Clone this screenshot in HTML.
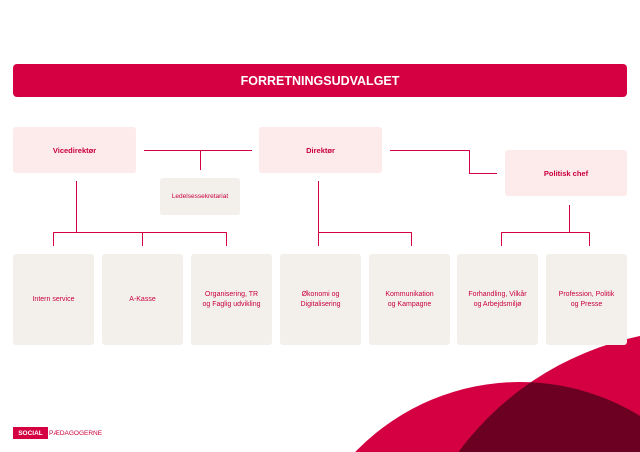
<!DOCTYPE html>
<html style="overflow:hidden"><head><meta charset="utf-8"><style>
html,body{margin:0;width:640px;height:452px;overflow:hidden}
body{background:#fff;position:relative;font-family:"Liberation Sans",sans-serif}
.a{position:absolute}
.hdr{left:13px;top:64px;width:614px;height:33px;background:#d40042;border-radius:4px;color:#fff;font-weight:bold;font-size:12.5px;display:flex;align-items:center;justify-content:center}
.t{background:#fdeaea;border-radius:3px;color:#c8003c;font-size:7.5px;font-weight:bold;display:flex;align-items:center;justify-content:center}
.b{background:#f3f0ec;border-radius:3px;color:#c8003c;font-size:7px;display:flex;align-items:center;justify-content:center;text-align:center;line-height:10px;top:254px;height:91px;width:81px}
.l{background:#d40042}
</style></head><body>
<svg class="a" style="left:0;top:0;display:block" width="640" height="452">
<defs><clipPath id="c1"><circle cx="520" cy="611" r="229"/></clipPath></defs>
<circle cx="700" cy="630" r="300" fill="#d40042"/>
<circle cx="520" cy="611" r="229" fill="#d40042"/>
<circle cx="700" cy="630" r="300" fill="#6c0022" clip-path="url(#c1)"/>
</svg>
<div class="a hdr">FORRETNINGSUDVALGET</div>
<div class="a t" style="left:13px;top:127px;width:123px;height:46px">Vicedirektør</div>
<div class="a t" style="left:259px;top:127px;width:123px;height:46px">Direktør</div>
<div class="a t" style="left:505px;top:150px;width:122px;height:46px">Politisk chef</div>
<div class="a" style="left:160px;top:178px;width:80px;height:37px;background:#f3f0ec;border-radius:3px;color:#c8003c;font-size:6.5px;display:flex;align-items:center;justify-content:center">Ledelsessekretariat</div>
<div class="a l" style="left:144px;top:150px;width:108px;height:1px"></div>
<div class="a l" style="left:200px;top:150px;width:1px;height:20px"></div>
<div class="a l" style="left:390px;top:150px;width:79px;height:1px"></div>
<div class="a l" style="left:469px;top:150px;width:1px;height:23px"></div>
<div class="a l" style="left:469px;top:173px;width:28px;height:1px"></div>
<div class="a l" style="left:76px;top:181px;width:1px;height:51px"></div>
<div class="a l" style="left:53px;top:232px;width:174px;height:1px"></div>
<div class="a l" style="left:53px;top:232px;width:1px;height:14px"></div>
<div class="a l" style="left:142px;top:232px;width:1px;height:14px"></div>
<div class="a l" style="left:226px;top:232px;width:1px;height:14px"></div>
<div class="a l" style="left:318px;top:181px;width:1px;height:65px"></div>
<div class="a l" style="left:318px;top:232px;width:94px;height:1px"></div>
<div class="a l" style="left:411px;top:232px;width:1px;height:14px"></div>
<div class="a l" style="left:569px;top:205px;width:1px;height:27px"></div>
<div class="a l" style="left:501px;top:232px;width:89px;height:1px"></div>
<div class="a l" style="left:501px;top:232px;width:1px;height:14px"></div>
<div class="a l" style="left:589px;top:232px;width:1px;height:14px"></div>
<div class="a b" style="left:13px">Intern service</div>
<div class="a b" style="left:102px">A-Kasse</div>
<div class="a b" style="left:191px">Organisering, TR<br>og Faglig udvikling</div>
<div class="a b" style="left:280px">Økonomi og<br>Digitalisering</div>
<div class="a b" style="left:369px">Kommunikation<br>og Kampagne</div>
<div class="a b" style="left:457px">Forhandling, Vilkår<br>og Arbejdsmiljø</div>
<div class="a b" style="left:546px">Profession, Politik<br>og Presse</div>
<div class="a" style="left:13px;top:427px;width:35px;height:12px;background:#d40042;color:#fff;font-size:6.5px;font-weight:bold;display:flex;align-items:center;justify-content:center">SOCIAL</div>
<div class="a" style="left:49px;top:427px;height:12px;color:#c8003c;font-size:6.5px;display:flex;align-items:center">PÆDAGOGERNE</div>
</body></html>
